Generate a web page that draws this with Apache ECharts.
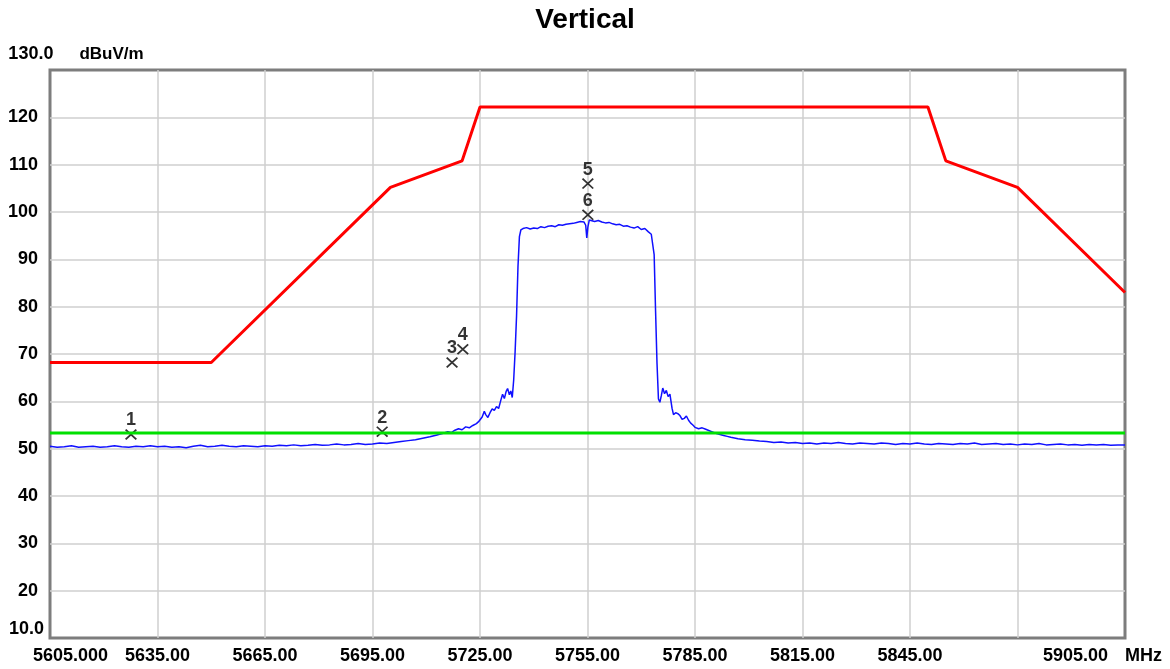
<!DOCTYPE html>
<html>
<head>
<meta charset="utf-8">
<title>Vertical</title>
<script src="https://cdn.jsdelivr.net/npm/echarts@6/dist/echarts.min.js"></script>
<style>
  html, body { margin: 0; padding: 0; background: #ffffff; }
  #chart { width: 1170px; height: 669px; }
</style>
</head>
<body>
<div id="chart"></div>
<script>
// Frequency axis ticks (MHz) and their printed labels
const xTickMHz = [5605, 5635, 5665, 5695, 5725, 5755, 5785, 5815, 5845, 5875, 5905];
const xTickLabels = ['5605.000', '5635.00', '5665.00', '5695.00', '5725.00', '5755.00',
                     '5785.00', '5815.00', '5845.00', '', '5905.00'];
const xUnit = 'MHz';

// Level axis ticks (dBuV/m) and their printed labels
const yTickDb = [10, 20, 30, 40, 50, 60, 70, 80, 90, 100, 110, 120, 130];
const yTickLabels = ['10.0', '20', '30', '40', '50', '60', '70', '80', '90', '100', '110', '120', '130.0'];
const yUnit = 'dBuV/m';

// Emission mask (red)
const limitMHz = [5605, 5650, 5700, 5720, 5725, 5850, 5855, 5875, 5905];
const limitDb  = [68.2, 68.2, 105.2, 110.8, 122.2, 122.2, 110.8, 105.2, 83.0];

// Average limit (green)
const avgLimitMHz = [5605, 5905];
const avgLimitDb  = [53.3, 53.3];

// Measured trace (blue): [MHz, dBuV/m]
const trace = [
  [5605,50.5],[5607,50.3],[5609,50.4],[5611,50.6],[5613,50.3],[5615,50.4],[5617,50.5],[5619,50.3],
  [5621,50.4],[5623,50.6],[5625,50.4],[5627,50.3],[5629,50.5],[5631,50.4],[5633,50.6],[5635,50.4],
  [5637,50.5],[5639,50.3],[5641,50.4],[5643,50.2],[5645,50.5],[5647,50.7],[5649,50.4],[5651,50.5],
  [5653,50.7],[5655,50.5],[5657,50.4],[5659,50.6],[5661,50.5],[5663,50.4],[5665,50.6],[5667,50.5],
  [5669,50.7],[5671,50.6],[5673,50.8],[5675,50.6],[5677,50.7],[5679,50.9],[5681,50.7],[5683,50.8],
  [5685,51.0],[5687,50.8],[5689,50.9],[5691,51.1],[5693,50.9],[5695,51.0],[5697,51.2],[5699,51.1],
  [5701,51.3],[5703,51.5],[5705,51.7],[5707,51.9],[5709,52.2],[5711,52.5],[5713,52.9],[5715,53.3],
  [5716,53.6],[5717,53.4],[5718,53.9],[5719,54.2],[5720,54.0],[5721,54.6],[5722,54.4],[5723,54.9],
  [5724,55.3],[5724.6,55.7],[5725,55.5],[5725.6,56.7],[5726.2,57.9],[5726.6,57.2],[5727.2,56.6],
  [5727.8,57.6],[5728.4,58.4],[5729,58.1],[5729.6,58.9],[5730.2,58.5],[5730.8,60.2],[5731.3,61.5],
  [5731.8,60.6],[5732.3,62.1],[5732.7,62.7],[5733.2,61.4],[5733.6,62.2],[5734,60.8],[5734.4,64.5],
  [5734.8,70.5],[5735.2,78.0],[5735.6,88.5],[5736,94.8],[5736.4,96.2],
  [5737,96.5],[5738,96.7],[5739,96.4],[5740,96.6],[5741,96.5],[5742,96.9],[5743,96.7],[5744,97.0],
  [5745,97.1],[5746,96.9],[5747,97.3],[5748,97.2],[5749,97.4],[5750,97.5],[5751,97.6],[5752,97.8],
  [5753,98.0],[5754,97.9],[5754.5,97.2],[5754.8,94.5],[5755.1,96.8],[5755.5,98.3],[5756,98.2],
  [5757,98.0],[5758,98.2],[5759,97.9],[5760,97.7],[5761,97.8],[5762,97.5],[5763,97.3],[5764,97.4],
  [5765,97.0],[5766,97.1],[5767,96.8],[5768,96.6],[5769,96.9],[5770,96.3],[5771,96.5],[5772,95.8],
  [5772.8,95.3],[5773.6,91.0],[5774.0,79.0],[5774.4,68.0],[5774.8,60.5],[5775.2,59.8],[5775.6,61.2],
  [5776,62.8],[5776.5,61.6],[5777,62.3],[5777.5,61.0],[5778,61.5],[5778.6,58.5],[5779,57.2],
  [5779.6,57.6],[5780.2,57.4],[5780.8,57.0],[5781.4,56.2],[5782,56.4],[5782.6,56.9],[5783.2,56.0],
  [5783.8,55.4],[5784.4,55.0],[5785,54.5],[5786,54.2],[5787,54.4],[5788,54.1],[5789,53.8],
  [5790,53.5],[5791,53.2],[5792,53.0],[5793,52.8],[5794,52.6],[5795,52.4],[5797,52.1],[5799,51.9],
  [5801,51.8],[5803,51.6],[5805,51.5],[5807,51.3],[5809,51.4],
  [5811,51.2],[5813,51.3],[5815,51.1],[5817,51.2],[5819,51.0],[5821,51.2],[5823,51.1],[5825,51.3],
  [5827,51.1],[5829,51.0],[5831,51.2],[5833,51.1],[5835,51.0],[5837,51.2],[5839,51.1],[5841,50.9],
  [5843,51.1],[5845,51.0],[5847,51.2],[5849,51.0],[5851,50.9],[5853,51.1],[5855,51.0],[5857,50.9],
  [5859,51.1],[5861,51.0],[5863,51.2],[5865,50.9],[5867,51.0],[5869,51.1],[5871,50.9],[5873,51.0],
  [5875,50.8],[5877,51.0],[5879,50.9],[5881,51.1],[5883,50.8],[5885,50.9],[5887,51.0],[5889,50.8],
  [5891,50.9],[5893,50.7],[5895,50.9],[5897,50.8],[5899,50.9],[5901,50.7],[5903,50.8],[5905,50.8]
];

// Markers
const markerNo  = [1, 2, 3, 4, 5, 6];
const markerMHz = [5627.6, 5697.7, 5717.2, 5720.2, 5755.1, 5755.1];
const markerDb  = [53.0, 53.6, 68.2, 71.0, 106.0, 99.4];

const FONT = '"Liberation Sans", Arial, Helvetica, sans-serif';
const labelFont = { fontFamily: FONT, fontWeight: 'bold', fontSize: 18, color: '#000' };
// diagonal cross used for marker points
const crossSymbol = 'path://M0,1.3L1.3,0L12,10.7L10.7,12Z M10.7,0L12,1.3L1.3,12L0,10.7Z';

const pairs = (xs, ys) => xs.map((x, i) => [x, ys[i]]);

const chart = echarts.init(document.getElementById('chart'), null, { renderer: 'canvas' });

chart.setOption({
  animation: false,
  backgroundColor: '#ffffff',
  title: {
    text: 'Vertical',
    left: 'center',
    top: 1,
    textStyle: { fontFamily: FONT, fontWeight: 'bold', fontSize: 28, color: '#000' }
  },
  grid: {
    left: 50, right: 45, top: 70, bottom: 31,
    show: true, borderColor: '#7d7d7d', borderWidth: 3, backgroundColor: '#ffffff'
  },
  xAxis: {
    type: 'value',
    min: xTickMHz[0],
    max: xTickMHz[xTickMHz.length - 1],
    interval: 30,
    axisLine: { show: false },
    axisTick: { show: false },
    splitLine: { show: true, showMinLine: false, showMaxLine: false,
                 lineStyle: { color: '#cfcfcf', width: 1.5 } },
    axisLabel: Object.assign({}, labelFont, {
      margin: 9,
      formatter: function (v) {
        const i = xTickMHz.findIndex(t => Math.abs(t - v) < 1e-6);
        if (i < 0) return '';
        const txt = xTickLabels[i];
        if (i === 0) return '{first|' + txt + '}';
        if (i === xTickMHz.length - 1) return '{last|' + txt + '}{unit|' + xUnit + '}';
        return txt;
      },
      rich: {
        first: Object.assign({}, labelFont, { padding: [0, 0, 0, 41] }),
        last: Object.assign({}, labelFont),
        unit: Object.assign({}, labelFont, { padding: [0, 45, 0, 17] })
      }
    })
  },
  yAxis: {
    type: 'value',
    min: yTickDb[0],
    max: yTickDb[yTickDb.length - 1],
    interval: 10,
    name: '{v|' + yTickLabels[yTickLabels.length - 1] + '}{u|' + yUnit + '}',
    nameLocation: 'end',
    nameGap: 16,
    nameTextStyle: {
      align: 'center',
      verticalAlign: 'middle',
      rich: {
        v: Object.assign({}, labelFont, { padding: [0, 0, 0, 52] }),
        u: Object.assign({}, labelFont, { fontSize: 17, padding: [0, 0, 0, 26] })
      }
    },
    axisLine: { show: false },
    axisTick: { show: false },
    splitLine: { show: true, showMinLine: false, showMaxLine: false,
                 lineStyle: { color: '#cfcfcf', width: 1.5 } },
    axisLabel: Object.assign({}, labelFont, {
      margin: 6,
      formatter: function (v) {
        const i = yTickDb.findIndex(t => Math.abs(t - v) < 1e-6);
        if (i < 0 || i === yTickDb.length - 1) return '';
        if (i === 0) return '{lo|' + yTickLabels[i] + '}';
        return '{n|' + yTickLabels[i] + '}';
      },
      rich: {
        n: Object.assign({}, labelFont, { padding: [0, 6, 0, 0] }),
        lo: Object.assign({}, labelFont, { padding: [0, 0, 18, 0] })
      }
    })
  },
  series: [
    {
      name: 'Limit',
      type: 'line',
      data: pairs(limitMHz, limitDb),
      showSymbol: false,
      symbol: 'none',
      lineStyle: { color: '#ff0000', width: 3 },
      silent: true,
      z: 2
    },
    {
      name: 'Trace',
      type: 'line',
      data: trace,
      showSymbol: false,
      symbol: 'none',
      lineStyle: { color: '#1010ff', width: 1.5 },
      silent: true,
      z: 3
    },
    {
      name: 'Markers',
      type: 'scatter',
      data: markerMHz.map((f, i) => [f, markerDb[i], markerNo[i]]),
      symbol: crossSymbol,
      symbolSize: [12, 11],
      itemStyle: { color: '#000000' },
      label: Object.assign({}, labelFont, {
        show: true,
        position: 'inside',
        offset: [0, -14],
        formatter: p => String(p.data[2])
      }),
      silent: true,
      z: 4
    },
    {
      name: 'Average limit',
      type: 'line',
      data: pairs(avgLimitMHz, avgLimitDb),
      showSymbol: false,
      symbol: 'none',
      lineStyle: { color: '#00e000', width: 3 },
      silent: true,
      z: 5
    }
  ]
});
</script>
</body>
</html>
